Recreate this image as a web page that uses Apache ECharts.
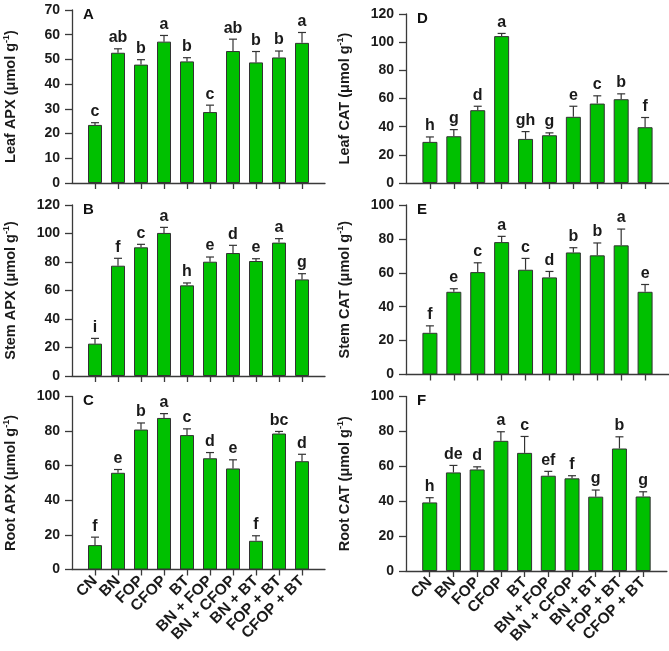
<!DOCTYPE html>
<html><head><meta charset="utf-8">
<script src="https://cdn.jsdelivr.net/npm/echarts@6/dist/echarts.min.js"></script>
<style>html,body{margin:0;padding:0;background:#fff}#c{width:669px;height:651px}</style>
</head><body><div id="c"></div>
<script>
const categories = ['CN','BN','FOP','CFOP','BT','BN + FOP','BN + CFOP','BN + BT','FOP + BT','CFOP + BT'];

const leafAPX = [23.5,52.7,47.9,57.2,49.2,28.7,53.4,48.8,50.8,56.7];
const leafAPXErr = [0.9,1.6,2.0,2.5,1.5,2.8,4.8,4.4,2.6,4.2];
const leafAPXLetters = ['c','ab','b','a','b','c','ab','b','b','a'];

const stemAPX = [22.7,77.4,90.3,100.4,63.6,80.2,86.3,80.7,93.6,67.8];
const stemAPXErr = [3.7,5.2,2.1,3.9,1.7,3.3,5.4,1.6,2.8,4.0];
const stemAPXLetters = ['i','f','c','a','h','e','d','e','a','g'];

const rootAPX = [14.1,55.9,80.9,87.6,77.7,64.3,58.4,16.6,78.6,62.6];
const rootAPXErr = [4.6,1.9,3.8,2.5,3.6,3.3,5.0,2.9,1.2,4.0];
const rootAPXLetters = ['f','e','b','a','c','d','e','f','bc','d'];

const leafCAT = [29.2,33.2,51.7,104.3,31.3,33.9,47.0,56.4,59.5,39.6];
const leafCATErr = [3.5,4.7,2.8,1.9,5.2,1.7,7.5,5.5,3.8,6.9];
const leafCATLetters = ['h','g','d','a','gh','g','e','c','b','f'];

const stemCAT = [24.6,48.8,60.4,78.1,61.8,57.3,72.0,70.3,76.2,48.8];
const stemCATErr = [4.1,1.8,5.5,3.4,6.7,3.5,2.8,7.3,9.6,4.3];
const stemCATLetters = ['f','e','c','a','c','d','b','b','a','e'];

const rootCAT = [39.3,56.5,58.2,74.6,67.7,54.6,53.1,42.6,70.2,42.7];
const rootCATErr = [2.7,4.0,1.5,5.2,9.4,2.5,1.5,3.8,6.7,2.7];
const rootCATLetters = ['h','de','d','a','c','ef','f','g','b','g'];

const panels = [
  {tag:'A', name:'Leaf APX', v:leafAPX, e:leafAPXErr, l:leafAPXLetters, max:70, step:10, left:72, top:10, width:253, height:173, bw:14, xl:false},
  {tag:'B', name:'Stem APX', v:stemAPX, e:stemAPXErr, l:stemAPXLetters, max:120, step:20, left:72, top:205, width:253, height:171, bw:14, xl:false},
  {tag:'C', name:'Root APX', v:rootAPX, e:rootAPXErr, l:rootAPXLetters, max:100, step:20, left:72, top:396.5, width:253, height:173, bw:14, xl:true},
  {tag:'D', name:'Leaf CAT', v:leafCAT, e:leafCATErr, l:leafCATLetters, max:120, step:20, left:406, top:14, width:265, height:169, bw:15, xl:false},
  {tag:'E', name:'Stem CAT', v:stemCAT, e:stemCATErr, l:stemCATLetters, max:100, step:20, left:406, top:205, width:265, height:169.5, bw:15, xl:false},
  {tag:'F', name:'Root CAT', v:rootCAT, e:rootCATErr, l:rootCATLetters, max:100, step:20, left:406, top:396.5, width:265, height:174.5, bw:15, xl:true}
];

const FONT = '"Liberation Sans", Arial, sans-serif';
const AX = '#3a3a3a';
const paddedCats = [''].concat(categories, ['']);

const grid = [], xAxis = [], yAxis = [], series = [], graphic = [];
panels.forEach((p, k) => {
  grid.push({left:p.left, top:p.top, width:p.width, height:p.height, containLabel:false});
  xAxis.push({
    type:'category', gridIndex:k, data:paddedCats, boundaryGap:false,
    axisLine:{lineStyle:{color:AX, width:1.3}},
    axisTick:{show:true, length:6, inside:false, lineStyle:{color:AX, width:1.3},
      interval:(i, val) => val !== ''},
    axisLabel:{show:p.xl, interval:0, rotate:45, margin:9, fontFamily:FONT, fontWeight:'bold', fontSize:15.5, color:'#1a1a1a'},
    splitLine:{show:false}
  });
  yAxis.push({
    type:'value', gridIndex:k, min:0, max:p.max, interval:p.step,
    axisLine:{show:true, lineStyle:{color:AX, width:1.3}},
    axisTick:{show:true, length:7, lineStyle:{color:AX, width:1.3}},
    axisLabel:{margin:12, fontFamily:FONT, fontWeight:'bold', fontSize:14, color:'#1a1a1a'},
    splitLine:{show:false},
    name:'{m|' + p.name + ' (μmol g}{s|-1}{m|)}',
    nameLocation:'middle', nameGap:52, nameRotate:90,
    nameTextStyle:{rich:{
      m:{fontFamily:FONT, fontWeight:'bold', fontSize:14.5, color:'#1a1a1a', lineHeight:18},
      s:{fontFamily:FONT, fontWeight:'bold', fontSize:9, color:'#1a1a1a', verticalAlign:'top', lineHeight:18}
    }}
  });
  series.push({
    type:'bar', xAxisIndex:k, yAxisIndex:k, barWidth:p.bw,
    data:[null].concat(p.v, [null]),
    itemStyle:{color:'#00c000', borderColor:'#333', borderWidth:1},
    silent:true, animation:false
  });
  series.push({
    type:'custom', xAxisIndex:k, yAxisIndex:k, animation:false, silent:true, z:5,
    data:p.v.map((v, i) => [i + 1, v, p.e[i]]),
    renderItem:(params, api) => {
      const idx = api.value(0), v = api.value(1), e = api.value(2);
      const p0 = api.coord([idx, v]);
      const p1 = api.coord([idx, v + e]);
      const cw = 4;
      return {type:'group', children:[
        {type:'line', shape:{x1:p0[0], y1:p0[1], x2:p1[0], y2:p1[1]}, style:{stroke:'#333', lineWidth:1.2}},
        {type:'line', shape:{x1:p1[0]-cw, y1:p1[1], x2:p1[0]+cw, y2:p1[1]}, style:{stroke:'#333', lineWidth:1.2}},
        {type:'text', x:p1[0], y:p1[1]-3, style:{text:p.l[params.dataIndex], fill:'#1a1a1a',
          font:'bold 16px ' + FONT, textAlign:'center', textVerticalAlign:'bottom'}}
      ]};
    }
  });
  graphic.push({type:'text', left:p.left + 11, top:p.top - 3,
    style:{text:p.tag, fill:'#111', font:'bold 15px ' + FONT}});
});

const chart = echarts.init(document.getElementById('c'), null, {renderer:'canvas'});
chart.setOption({animation:false, grid, xAxis, yAxis, series, graphic});
</script>
</body></html>
